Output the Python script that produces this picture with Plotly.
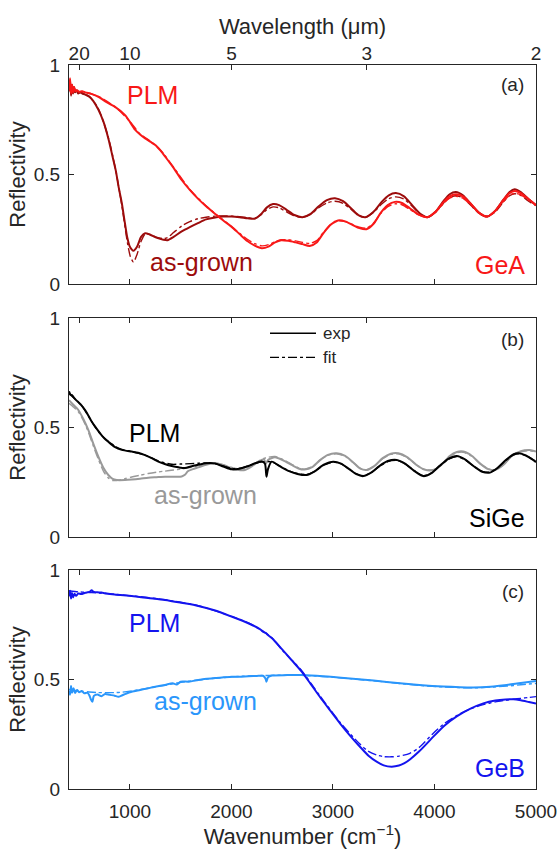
import plotly.graph_objects as go

# ---------------------------------------------------------------------------
# Reflectivity spectra (wavenumber in cm^-1, reflectivity 0..1)
# ---------------------------------------------------------------------------

# Panel (a): GeA
GEA_ASGROWN_EXP = [
    (400, 0.88), (410, 0.93), (420, 0.86), (430, 0.91), (440, 0.87), (450, 0.90),
    (460, 0.875), (475, 0.885), (490, 0.87), (510, 0.875), (530, 0.87), (560, 0.865),
    (600, 0.855), (640, 0.835), (690, 0.795), (740, 0.74), (790, 0.66), (830, 0.58),
    (860, 0.52), (890, 0.44), (920, 0.37), (950, 0.28), (975, 0.21), (1000, 0.17),
    (1035, 0.152), (1070, 0.17), (1110, 0.215), (1150, 0.232), (1200, 0.225),
    (1260, 0.212), (1330, 0.202), (1370, 0.200), (1430, 0.215), (1510, 0.24),
    (1590, 0.26), (1670, 0.278), (1750, 0.295), (1840, 0.304), (1920, 0.308),
    (2000, 0.308), (2080, 0.305), (2160, 0.300), (2230, 0.298), (2290, 0.318),
    (2350, 0.350), (2410, 0.365), (2470, 0.36), (2540, 0.34), (2620, 0.315),
    (2700, 0.305), (2780, 0.32), (2860, 0.355), (2940, 0.383), (3020, 0.392),
    (3100, 0.378), (3180, 0.345), (3250, 0.315), (3320, 0.305), (3400, 0.33),
    (3480, 0.375), (3550, 0.405), (3620, 0.415), (3700, 0.40), (3780, 0.36),
    (3860, 0.32), (3930, 0.305), (4010, 0.33), (4090, 0.38), (4150, 0.41),
    (4210, 0.42), (4280, 0.405), (4360, 0.365), (4440, 0.325), (4520, 0.308),
    (4600, 0.335), (4680, 0.385), (4740, 0.42), (4790, 0.433), (4850, 0.42),
    (4920, 0.39), (5000, 0.36),
]
GEA_ASGROWN_FIT = [
    (400, 0.885), (450, 0.885), (520, 0.875), (600, 0.857), (690, 0.80), (790, 0.665),
    (860, 0.52), (920, 0.36), (975, 0.19), (1005, 0.125), (1035, 0.10), (1070, 0.135),
    (1110, 0.195), (1150, 0.228), (1200, 0.226), (1260, 0.214), (1330, 0.207),
    (1370, 0.212), (1430, 0.235), (1510, 0.265), (1590, 0.285), (1670, 0.298),
    (1750, 0.305), (1840, 0.31), (1920, 0.311), (2000, 0.31), (2080, 0.307),
    (2160, 0.303), (2230, 0.30), (2290, 0.315), (2350, 0.34), (2410, 0.352),
    (2470, 0.348), (2540, 0.33), (2620, 0.312), (2700, 0.305), (2780, 0.318),
    (2860, 0.348), (2940, 0.37), (3020, 0.378), (3100, 0.368), (3180, 0.34),
    (3250, 0.313), (3320, 0.305), (3400, 0.328), (3480, 0.365), (3550, 0.39),
    (3620, 0.398), (3700, 0.388), (3780, 0.355), (3860, 0.318), (3930, 0.305),
    (4010, 0.328), (4090, 0.37), (4150, 0.395), (4210, 0.403), (4280, 0.393),
    (4360, 0.358), (4440, 0.322), (4520, 0.308), (4600, 0.33), (4680, 0.375),
    (4740, 0.403), (4790, 0.412), (4850, 0.405), (4920, 0.38), (5000, 0.358),
]
GEA_PLM_EXP = [
    (400, 0.88), (410, 0.94), (420, 0.87), (430, 0.91), (440, 0.875), (450, 0.90),
    (465, 0.88), (480, 0.885), (500, 0.878), (530, 0.88), (560, 0.875), (620, 0.868),
    (690, 0.855), (770, 0.83), (850, 0.81), (950, 0.772), (1000, 0.74), (1050, 0.705),
    (1100, 0.683), (1150, 0.665), (1200, 0.65), (1250, 0.635), (1300, 0.61),
    (1350, 0.58), (1430, 0.53), (1510, 0.475), (1590, 0.43), (1670, 0.39),
    (1750, 0.355), (1840, 0.32), (1920, 0.29), (2000, 0.262), (2080, 0.228),
    (2160, 0.195), (2230, 0.175), (2300, 0.163), (2370, 0.172), (2430, 0.19),
    (2490, 0.20), (2560, 0.197), (2630, 0.19), (2700, 0.182), (2770, 0.174),
    (2840, 0.19), (2910, 0.235), (2980, 0.272), (3050, 0.29), (3120, 0.286),
    (3200, 0.268), (3260, 0.255), (3330, 0.25), (3400, 0.275), (3470, 0.325),
    (3540, 0.36), (3610, 0.375), (3680, 0.37), (3760, 0.345), (3840, 0.318),
    (3930, 0.305), (4010, 0.33), (4090, 0.375), (4150, 0.40), (4210, 0.41),
    (4280, 0.40), (4360, 0.365), (4440, 0.325), (4520, 0.308), (4600, 0.335),
    (4680, 0.385), (4740, 0.415), (4790, 0.425), (4850, 0.415), (4920, 0.39),
    (5000, 0.36),
]
GEA_PLM_FIT = [
    (400, 0.885), (480, 0.882), (560, 0.876), (690, 0.856), (850, 0.81), (1000, 0.742),
    (1100, 0.685), (1200, 0.652), (1300, 0.612), (1430, 0.533), (1590, 0.432),
    (1750, 0.357), (1920, 0.292), (2080, 0.232), (2160, 0.203), (2230, 0.184),
    (2300, 0.174), (2370, 0.18), (2430, 0.193), (2490, 0.202), (2560, 0.202),
    (2630, 0.197), (2700, 0.19), (2770, 0.185), (2840, 0.198), (2910, 0.238),
    (2980, 0.272), (3050, 0.288), (3120, 0.285), (3200, 0.27), (3260, 0.259),
    (3330, 0.255), (3400, 0.278), (3470, 0.322), (3540, 0.353), (3610, 0.366),
    (3680, 0.362), (3760, 0.34), (3840, 0.317), (3930, 0.305), (4010, 0.327),
    (4090, 0.368), (4150, 0.392), (4210, 0.401), (4280, 0.392), (4360, 0.36),
    (4440, 0.323), (4520, 0.308), (4600, 0.332), (4680, 0.377), (4740, 0.405),
    (4790, 0.414), (4850, 0.407), (4920, 0.385), (5000, 0.36),
]

# Panel (b): SiGe
SIGE_PLM_EXP = [
    (400, 0.665), (415, 0.65), (430, 0.648), (450, 0.635), (470, 0.625), (500, 0.612),
    (525, 0.60), (560, 0.578), (590, 0.555), (620, 0.53), (656, 0.505), (690, 0.483),
    (720, 0.465), (750, 0.45), (787, 0.435), (850, 0.412), (920, 0.398), (1018, 0.39),
    (1080, 0.385), (1149, 0.374), (1215, 0.36), (1280, 0.344), (1350, 0.332),
    (1412, 0.324), (1480, 0.318), (1543, 0.315), (1600, 0.322), (1674, 0.33),
    (1750, 0.337), (1838, 0.336), (1920, 0.322), (2003, 0.309), (2080, 0.312),
    (2166, 0.324), (2240, 0.338), (2300, 0.345), (2330, 0.335), (2345, 0.275),
    (2360, 0.31), (2396, 0.344), (2480, 0.322), (2560, 0.302), (2650, 0.288),
    (2740, 0.283), (2820, 0.30), (2910, 0.33), (3003, 0.344), (3080, 0.335),
    (3160, 0.31), (3230, 0.287), (3299, 0.278), (3380, 0.295), (3460, 0.325),
    (3540, 0.347), (3628, 0.352), (3710, 0.335), (3800, 0.302), (3890, 0.278),
    (3970, 0.292), (4050, 0.325), (4140, 0.358), (4219, 0.37), (4300, 0.355),
    (4390, 0.322), (4470, 0.298), (4547, 0.294), (4620, 0.315), (4700, 0.35),
    (4780, 0.378), (4830, 0.382), (4900, 0.372), (4960, 0.355), (5000, 0.342),
]
SIGE_PLM_FIT = [
    (400, 0.655), (470, 0.625), (525, 0.60), (590, 0.553), (656, 0.503), (720, 0.465),
    (787, 0.437), (850, 0.415), (920, 0.40), (1018, 0.39), (1149, 0.374), (1280, 0.347),
    (1412, 0.332), (1500, 0.333), (1600, 0.335), (1674, 0.337), (1750, 0.338),
    (1838, 0.335), (1920, 0.324), (2003, 0.313), (2080, 0.314), (2166, 0.325),
    (2240, 0.337), (2320, 0.344), (2396, 0.343), (2480, 0.323), (2560, 0.304),
    (2650, 0.29), (2740, 0.285), (2820, 0.30), (2910, 0.328), (3003, 0.342),
    (3080, 0.334), (3160, 0.31), (3230, 0.289), (3299, 0.28), (3380, 0.295),
    (3460, 0.323), (3540, 0.344), (3628, 0.35), (3710, 0.334), (3800, 0.303),
    (3890, 0.28), (3970, 0.292), (4050, 0.323), (4140, 0.355), (4219, 0.367),
    (4300, 0.353), (4390, 0.322), (4470, 0.30), (4547, 0.296), (4620, 0.315),
    (4700, 0.348), (4780, 0.375), (4830, 0.38), (4900, 0.372), (4960, 0.357),
    (5000, 0.345),
]
SIGE_ASGROWN_EXP = [
    (400, 0.625), (440, 0.605), (492, 0.58), (540, 0.54), (590, 0.489), (640, 0.425),
    (689, 0.367), (740, 0.315), (787, 0.283), (830, 0.265), (870, 0.26), (950, 0.26),
    (1018, 0.262), (1100, 0.266), (1181, 0.271), (1260, 0.273), (1346, 0.275),
    (1430, 0.275), (1510, 0.276), (1545, 0.285), (1570, 0.30), (1620, 0.31),
    (1674, 0.318), (1750, 0.33), (1838, 0.338), (1920, 0.328), (2003, 0.313),
    (2070, 0.306), (2133, 0.306), (2200, 0.322), (2270, 0.345), (2320, 0.355),
    (2340, 0.335), (2360, 0.352), (2429, 0.364), (2510, 0.35), (2593, 0.329),
    (2660, 0.313), (2720, 0.308), (2800, 0.32), (2870, 0.35), (2950, 0.375),
    (3036, 0.382), (3120, 0.37), (3200, 0.34), (3270, 0.312), (3332, 0.306),
    (3410, 0.325), (3490, 0.36), (3570, 0.38), (3644, 0.382), (3730, 0.365),
    (3820, 0.33), (3900, 0.308), (3989, 0.306), (4070, 0.33), (4150, 0.37),
    (4220, 0.388), (4284, 0.39), (4370, 0.37), (4450, 0.335), (4530, 0.31),
    (4596, 0.306), (4680, 0.33), (4760, 0.37), (4850, 0.392), (4940, 0.397),
    (5000, 0.39),
]
SIGE_ASGROWN_FIT = [
    (400, 0.61), (440, 0.595), (492, 0.572), (540, 0.533), (590, 0.48), (640, 0.415),
    (689, 0.355), (740, 0.30), (787, 0.27), (830, 0.258), (870, 0.258), (950, 0.266),
    (1018, 0.274), (1100, 0.282), (1181, 0.29), (1260, 0.296), (1346, 0.301),
    (1430, 0.306), (1510, 0.311), (1590, 0.317), (1674, 0.325), (1750, 0.332),
    (1838, 0.336), (1920, 0.33), (2003, 0.318), (2070, 0.311), (2133, 0.311),
    (2200, 0.325), (2270, 0.348), (2340, 0.362), (2429, 0.368), (2510, 0.353),
    (2593, 0.332), (2660, 0.316), (2720, 0.31), (2800, 0.322), (2870, 0.35),
    (2950, 0.373), (3036, 0.38), (3120, 0.368), (3200, 0.34), (3270, 0.313),
    (3332, 0.307), (3410, 0.325), (3490, 0.358), (3570, 0.377), (3644, 0.38),
    (3730, 0.363), (3820, 0.33), (3900, 0.309), (3989, 0.307), (4070, 0.33),
    (4150, 0.367), (4220, 0.385), (4284, 0.387), (4370, 0.368), (4450, 0.335),
    (4530, 0.311), (4596, 0.307), (4680, 0.33), (4760, 0.367), (4850, 0.388),
    (4940, 0.394), (5000, 0.388),
]

# Panel (c): GeB
GEB_PLM_EXP = [
    (400, 0.88), (410, 0.905), (420, 0.87), (430, 0.895), (440, 0.875), (455, 0.892),
    (470, 0.882), (492, 0.893), (520, 0.89), (560, 0.896), (600, 0.90), (623, 0.907),
    (645, 0.90), (680, 0.898), (720, 0.897), (755, 0.894), (850, 0.888), (1018, 0.881),
    (1180, 0.872), (1346, 0.863), (1510, 0.85), (1674, 0.836), (1840, 0.815),
    (2003, 0.787), (2166, 0.757), (2280, 0.73), (2320, 0.716), (2340, 0.712),
    (2360, 0.703), (2400, 0.688), (2495, 0.64), (2590, 0.59), (2692, 0.536),
    (2780, 0.48), (2872, 0.42), (2970, 0.36), (3069, 0.30), (3170, 0.243),
    (3266, 0.193), (3350, 0.152), (3430, 0.125), (3500, 0.108), (3578, 0.102),
    (3650, 0.107), (3700, 0.117), (3758, 0.135), (3850, 0.172), (3989, 0.239),
    (4100, 0.29), (4219, 0.332), (4350, 0.366), (4481, 0.391), (4600, 0.404),
    (4700, 0.409), (4777, 0.41), (4850, 0.405), (4930, 0.397), (5000, 0.39),
]
GEB_PLM_FIT = [
    (400, 0.905), (492, 0.90), (580, 0.898), (623, 0.897), (700, 0.895), (850, 0.889),
    (1018, 0.882), (1346, 0.864), (1674, 0.837), (2003, 0.788), (2166, 0.758),
    (2330, 0.714), (2400, 0.69), (2495, 0.637), (2692, 0.54), (2872, 0.425),
    (3069, 0.305), (3266, 0.205), (3350, 0.172), (3430, 0.155), (3500, 0.148),
    (3578, 0.147), (3650, 0.15), (3758, 0.163), (3850, 0.19), (3989, 0.255),
    (4100, 0.30), (4219, 0.335), (4350, 0.365), (4481, 0.385), (4600, 0.398),
    (4700, 0.405), (4777, 0.41), (4850, 0.414), (4930, 0.418), (5000, 0.422),
]
GEB_ASGROWN_EXP = [
    (400, 0.45), (410, 0.43), (420, 0.47), (430, 0.44), (445, 0.46), (460, 0.438),
    (480, 0.452), (500, 0.442), (525, 0.447), (550, 0.437), (580, 0.44), (600, 0.428),
    (615, 0.41), (630, 0.398), (645, 0.425), (680, 0.432), (720, 0.424), (755, 0.434),
    (800, 0.43), (850, 0.426), (886, 0.421), (920, 0.427), (960, 0.435), (1018, 0.444),
    (1100, 0.452), (1180, 0.46), (1260, 0.468), (1346, 0.475), (1420, 0.483),
    (1460, 0.477), (1500, 0.49), (1580, 0.49), (1674, 0.498), (1760, 0.503),
    (1840, 0.507), (1920, 0.51), (2003, 0.513), (2080, 0.513), (2166, 0.515),
    (2250, 0.516), (2310, 0.517), (2335, 0.505), (2345, 0.49), (2360, 0.51),
    (2400, 0.518), (2550, 0.52), (2692, 0.52), (2900, 0.515), (3168, 0.505),
    (3400, 0.495), (3660, 0.483), (3880, 0.474), (4087, 0.468), (4250, 0.465),
    (4383, 0.464), (4550, 0.467), (4712, 0.475), (4850, 0.484), (5000, 0.493),
]
GEB_ASGROWN_FIT = [
    (400, 0.455), (470, 0.45), (525, 0.447), (600, 0.443), (680, 0.44), (755, 0.44),
    (850, 0.44), (920, 0.442), (1018, 0.448), (1180, 0.46), (1346, 0.474),
    (1500, 0.487), (1674, 0.498), (1840, 0.506), (2003, 0.512), (2166, 0.516),
    (2300, 0.518), (2400, 0.519), (2550, 0.52), (2692, 0.519), (2900, 0.514),
    (3168, 0.504), (3400, 0.494), (3660, 0.482), (3880, 0.472), (4087, 0.466),
    (4250, 0.463), (4383, 0.462), (4550, 0.465), (4712, 0.47), (4850, 0.476),
    (5000, 0.482),
]

# Axis ticks
WAVENUMBER_TICKS = [1000, 2000, 3000, 4000, 5000]
WAVELENGTH_TICKS_UM = [20, 10, 5, 3, 2]
REFLECTIVITY_TICKS = [0, 0.5, 1]
X_RANGE = [400, 5000]

# Colours
C_GEA_ASG = "#9c0c0c"
C_GEA_PLM = "#f81818"
C_SIGE_PLM = "#000000"
C_SIGE_ASG = "#999999"
C_GEB_PLM = "#1414ee"
C_GEB_ASG = "#2a96fb"
AX_COL = "#262626"
FONT = "Liberation Sans, Arial, sans-serif"


def unzip(pairs):
    return [p[0] for p in pairs], [p[1] for p in pairs]


fig = go.Figure()

# (exp, fit, colour) per panel; panel index 1..3
panels = [
    [(GEA_ASGROWN_EXP, GEA_ASGROWN_FIT, C_GEA_ASG), (GEA_PLM_EXP, GEA_PLM_FIT, C_GEA_PLM)],
    [(SIGE_ASGROWN_EXP, SIGE_ASGROWN_FIT, C_SIGE_ASG), (SIGE_PLM_EXP, SIGE_PLM_FIT, C_SIGE_PLM)],
    [(GEB_ASGROWN_EXP, GEB_ASGROWN_FIT, C_GEB_ASG), (GEB_PLM_EXP, GEB_PLM_FIT, C_GEB_PLM)],
]

for i, series in enumerate(panels, start=1):
    xa = "x" if i == 1 else f"x{i}"
    ya = "y" if i == 1 else f"y{i}"
    for exp, fit, col in series:
        x, y = unzip(exp)
        fig.add_trace(go.Scatter(x=x, y=y, mode="lines", xaxis=xa, yaxis=ya,
                                 line=dict(color=col, width=2, shape="spline", smoothing=0.7),
                                 showlegend=False, hoverinfo="skip"))
        x, y = unzip(fit)
        fig.add_trace(go.Scatter(x=x, y=y, mode="lines", xaxis=xa, yaxis=ya,
                                 line=dict(color=col, width=1.4, dash="dashdot",
                                           shape="spline", smoothing=0.7),
                                 showlegend=False, hoverinfo="skip"))
    # carrier trace for the top (wavelength) axis of this panel
    fig.add_trace(go.Scatter(x=[None], y=[None], xaxis=f"x{i + 3}", yaxis=ya,
                             showlegend=False, hoverinfo="skip"))

# layout geometry
H, W = 849, 558
M_T, M_B, M_L, M_R = 65, 60, 69, 22
plot_h = H - M_T - M_B


def dom(top_px, bot_px):
    return [(H - M_B - bot_px) / plot_h, (H - M_B - top_px) / plot_h]


domains = [dom(65, 284), dom(318, 537), dom(570, 789)]

tick_font = dict(family=FONT, size=19, color=AX_COL)
title_font = dict(family=FONT, size=22, color=AX_COL)
top_vals = [1e4 / lam for lam in WAVELENGTH_TICKS_UM]

layout = dict(
    width=W, height=H,
    margin=dict(l=M_L, r=M_R, t=M_T, b=M_B, autoexpand=False),
    paper_bgcolor="white", plot_bgcolor="white",
    font=dict(family=FONT, color=AX_COL),
    showlegend=False,
)

for i in range(1, 4):
    xa = "xaxis" if i == 1 else f"xaxis{i}"
    ya = "yaxis" if i == 1 else f"yaxis{i}"
    yref = "y" if i == 1 else f"y{i}"
    layout[xa] = dict(
        range=X_RANGE, anchor=yref, domain=[0, 1], automargin=False,
        tickvals=WAVENUMBER_TICKS, ticktext=[str(v) for v in WAVENUMBER_TICKS],
        showticklabels=(i == 3), ticks="inside", ticklen=5, tickcolor=AX_COL,
        showline=True, linecolor=AX_COL, linewidth=1, mirror=True,
        showgrid=False, zeroline=False, tickfont=tick_font, ticklabelstandoff=5,
    )
    if i == 3:
        layout[xa]["title"] = dict(text="Wavenumber (cm<sup>\u22121</sup>)",
                                   font=title_font, standoff=8)
    layout[f"xaxis{i + 3}"] = dict(
        range=X_RANGE, anchor=yref, overlaying="x" if i == 1 else f"x{i}", side="top",
        automargin=False,
        tickvals=top_vals, ticktext=[str(v) for v in WAVELENGTH_TICKS_UM],
        showticklabels=(i == 1), ticks="inside", ticklen=5, tickcolor=AX_COL,
        showline=False, showgrid=False, zeroline=False, tickfont=tick_font,
    )
    if i == 1:
        layout["xaxis4"]["title"] = dict(text="Wavelength (\u03bcm)", font=title_font, standoff=2)
    layout[ya] = dict(
        range=[0, 1], domain=domains[i - 1], anchor="x" if i == 1 else f"x{i}",
        automargin=False,
        tickvals=REFLECTIVITY_TICKS, ticktext=["0", "0.5", "1"],
        ticks="inside", ticklen=5, tickcolor=AX_COL,
        showline=True, linecolor=AX_COL, linewidth=1, mirror="ticks",
        showgrid=False, zeroline=False, tickfont=tick_font, ticklabelstandoff=4,
        title=dict(text="Reflectivity", font=title_font, standoff=2),
    )

fig.update_layout(**layout)


def label(text, x, y, col, ref, size=25, xanchor="center"):
    fig.add_annotation(text=text, x=x, y=y, xref=f"x{ref}" if ref > 1 else "x",
                       yref=f"y{ref}" if ref > 1 else "y", showarrow=False,
                       xanchor=xanchor, yanchor="middle",
                       font=dict(family=FONT, size=size, color=col))


# panel (a)
label("PLM", 1218, 0.863, C_GEA_PLM, 1)
label("as-grown", 1710, 0.10, C_GEA_ASG, 1)
label("GeA", 4910, 0.087, C_GEA_PLM, 1, xanchor="right")
label("(a)", 4900, 0.91, AX_COL, 1, size=19, xanchor="right")
# panel (b)
label("PLM", 1240, 0.475, C_SIGE_PLM, 2)
label("as-grown", 1740, 0.19, C_SIGE_ASG, 2)
label("SiGe", 4910, 0.087, "#000000", 2, xanchor="right")
label("(b)", 4900, 0.90, AX_COL, 2, size=19, xanchor="right")
# panel (c)
label("PLM", 1240, 0.758, C_GEB_PLM, 3)
label("as-grown", 1740, 0.40, C_GEB_ASG, 3)
label("GeB", 4910, 0.096, C_GEB_PLM, 3, xanchor="right")
label("(c)", 4900, 0.90, AX_COL, 3, size=19, xanchor="right")

# line-style key in panel (b)
KEY_X0, KEY_X1, KEY_TXT = 2380, 2833, 2880
for y_key, dash, name in [(0.93, "solid", "exp"), (0.82, "dashdot", "fit")]:
    fig.add_shape(type="line", x0=KEY_X0, x1=KEY_X1, y0=y_key, y1=y_key, xref="x2", yref="y2",
                  line=dict(color="black", width=1.5 if dash == "solid" else 1.2, dash=dash))
    label(name, KEY_TXT, y_key, AX_COL, 2, size=17, xanchor="left")

fig.write_html("out.html")
